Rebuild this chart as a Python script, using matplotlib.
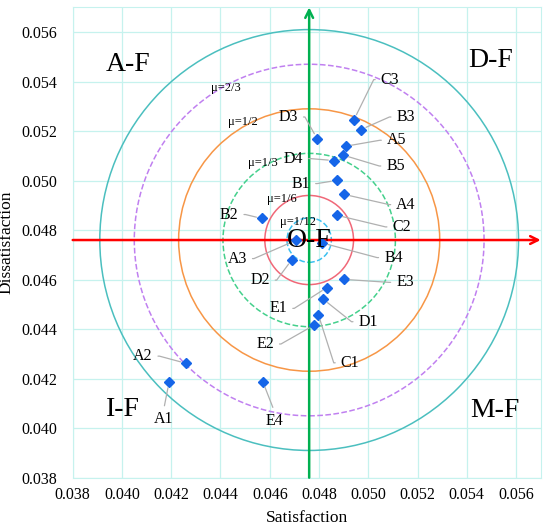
import matplotlib
matplotlib.use('Agg')
import matplotlib.pyplot as plt
from matplotlib.patches import Circle

plt.rcParams['font.family'] = ['Liberation Serif', 'DejaVu Serif']

# points
names = ['A1', 'A2', 'A3', 'A4', 'A5', 'B1', 'B2', 'B3', 'B4', 'B5',
         'C1', 'C2', 'C3', 'D1', 'D2', 'D3', 'D4', 'E1', 'E2', 'E3', 'E4']
satisfaction = [0.04191, 0.04260, 0.04707, 0.04903, 0.04909,
                0.04872, 0.04568, 0.04970, 0.04814, 0.04898,
                0.04797, 0.04873, 0.04942,
                0.04817, 0.04690, 0.04792, 0.04860,
                0.04832, 0.04780, 0.04902, 0.04572]
dissatisfaction = [0.04185, 0.04262, 0.04759, 0.04944, 0.05139,
                   0.05001, 0.04847, 0.05206, 0.04748, 0.05103,
                   0.04459, 0.04860, 0.05246,
                   0.04521, 0.04681, 0.05170, 0.05081,
                   0.04568, 0.04416, 0.04601, 0.04187]

center = (0.0476, 0.0476)
mu_labels = ['μ=1/12', 'μ=1/6', 'μ=1/3', 'μ=1/2', 'μ=2/3', None]
radii = [0.0009, 0.0018, 0.0035, 0.0053, 0.0071, 0.0085]

ticks = [0.038, 0.040, 0.042, 0.044, 0.046, 0.048, 0.050, 0.052, 0.054, 0.056]
zones = ['A-F', 'D-F', 'I-F', 'M-F', 'O-F']

# layout / styling
circle_styles = [('#3cc0f0', '--'), ('#f06878', '-'), ('#44d08c', '--'),
                 ('#f79646', '-'), ('#c080f0', '--'), ('#4bbfbf', '-')]
mu_pos = [(0.04716, 0.04832), (0.0465, 0.04924), (0.04573, 0.05070),
          (0.04492, 0.05235), (0.04423, 0.05376)]
zone_pos = [(0.04025, 0.0547), (0.05498, 0.05486), (0.04004, 0.04077),
            (0.05515, 0.04073), (0.0476, 0.0476)]
label_pos = {
    'A1': (0.04168, 0.04036, 'b'), 'A2': (0.04084, 0.04291, 'l'),
    'A3': (0.04468, 0.04685, 'l'), 'A4': (0.05153, 0.04903, 'r'),
    'A5': (0.05115, 0.05163, 'r'), 'B1': (0.04726, 0.04988, 'l'),
    'B2': (0.04435, 0.04863, 'l'), 'B3': (0.05152, 0.05257, 'r'),
    'B4': (0.05102, 0.04689, 'r'), 'B5': (0.05111, 0.05059, 'r'),
    'C1': (0.04926, 0.04264, 'r'), 'C2': (0.05136, 0.04813, 'r'),
    'C3': (0.05088, 0.05408, 'r'), 'D1': (0.05000, 0.04430, 'r'),
    'D2': (0.04560, 0.04598, 'l'), 'D3': (0.04675, 0.05257, 'l'),
    'D4': (0.04696, 0.05089, 'l'), 'E1': (0.04635, 0.04484, 'l'),
    'E2': (0.04581, 0.04340, 'l'), 'E3': (0.05149, 0.04589, 'r'),
    'E4': (0.04621, 0.04030, 'b'),
}

fig = plt.figure(figsize=(5.5, 5.3), dpi=100)
ax = fig.add_axes([0.1322, 0.0987, 0.8509, 0.8875])
ax.set_xlim(0.038, 0.057)
ax.set_ylim(0.038, 0.057)
ax.set_xticks(ticks)
ax.set_yticks(ticks)
ax.set_xticklabels([f'{t:.3f}' for t in ticks])
ax.set_yticklabels([f'{t:.3f}' for t in ticks])
ax.tick_params(axis='both', length=0, labelsize=11.5)
ax.tick_params(axis='x', pad=7)
ax.tick_params(axis='y', pad=11)
ax.grid(True, color='#c6f2ee', lw=0.9)
ax.set_axisbelow(True)
for s in ax.spines.values():
    s.set_color('#c6f2ee')
ax.set_xlabel('Satisfaction', fontsize=12.5, labelpad=5)
ax.set_ylabel('Dissatisfaction', fontsize=12.5, labelpad=5)

for r, (col, ls) in zip(radii, circle_styles):
    ax.add_patch(Circle(center, r, fill=False, ec=col, ls=ls, lw=1.1, zorder=2))

for lab, (x, y) in zip(mu_labels, mu_pos):
    ax.text(x, y, lab, fontsize=9, ha='center', va='center', zorder=5)

ax.annotate('', xy=(0.057, center[1]), xytext=(0.038, center[1]),
            arrowprops=dict(arrowstyle='->', color='#ff0000', lw=1.8,
                            mutation_scale=14, shrinkA=0, shrinkB=0), zorder=3)
ax.annotate('', xy=(center[0], 0.057), xytext=(center[0], 0.038),
            arrowprops=dict(arrowstyle='->', color='#00b050', lw=1.8,
                            mutation_scale=14, shrinkA=0, shrinkB=0), zorder=3)

for z, (x, y) in zip(zones, zone_pos):
    ax.text(x, y, z, fontsize=20, ha='center', va='center', zorder=6)

ax.plot(satisfaction, dissatisfaction, 'D', color='#1565e8', ms=5, zorder=4)

for n, x, y in zip(names, satisfaction, dissatisfaction):
    tx, ty, side = label_pos[n]
    if side == 'l':
        rel, cs = (1.0, 0.5), 'arc,angleA=0,armA=7,angleB=0,armB=0,rad=0'
    elif side == 'r':
        rel, cs = (0.0, 0.5), 'arc,angleA=180,armA=7,angleB=0,armB=0,rad=0'
    else:
        rel, cs = (0.5, 1.0), 'arc3,rad=0'
    ax.annotate(n, xy=(x, y), xytext=(tx, ty), fontsize=11.5,
                ha='center', va='center', zorder=5,
                arrowprops=dict(arrowstyle='-', color='#b0b0b0', lw=0.9,
                                shrinkA=2, shrinkB=4, relpos=rel,
                                connectionstyle=cs))

fig.savefig('out.png', dpi=100)
